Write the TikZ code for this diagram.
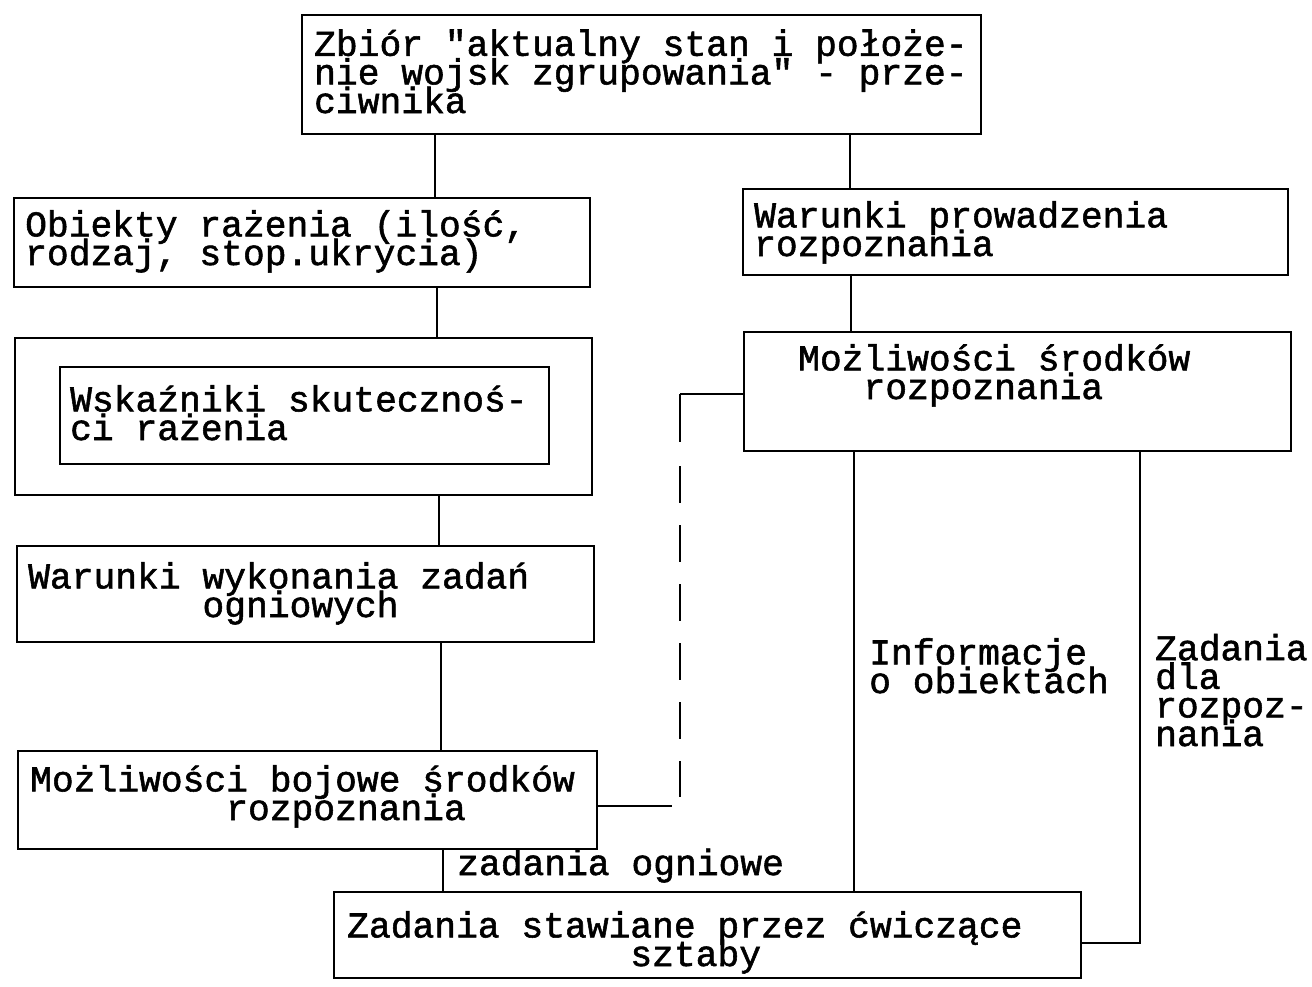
\documentclass[tikz,border=0pt]{standalone}
\usepackage{fontspec}
\newfontfamily\mono[FakeBold=1.5]{Liberation Mono}
% monospace text with fixed, tight line spacing
\newcommand\tightmono{\mono\fontsize{36.3}{28.6}\selectfont
  \setlength{\lineskiplimit}{-100pt}\setlength{\lineskip}{0pt}}
\begin{document}
\begin{tikzpicture}[x=1pt,y=-1pt,
  box/.style={draw, line width=2pt, inner sep=0pt, anchor=north west},
  % a multi-line text is placed by the baseline of its last line
  txt/.style={inner sep=0pt, anchor=base west, align=left, font=\tightmono},
  link/.style={line width=2pt},
  dlink/.style={line width=2pt, dash pattern=on 48pt off 24pt on 37pt off 22pt on 37pt off 22pt on 37pt off 22pt on 37pt off 22pt on 37pt off 22pt on 37pt off 22pt on 37pt off 40pt}
]
\useasboundingbox (0,0) rectangle (1312,986);

% boxes
\node[box, minimum width=679pt, minimum height=119pt] (top) at (301,14) {};
\node[box, minimum width=576pt, minimum height=89pt]  (obj) at (13,197) {};
\node[box, minimum width=577pt, minimum height=157pt] (outer) at (14,337) {};
\node[box, minimum width=489pt, minimum height=97pt]  (inner) at (59,366) {};
\node[box, minimum width=577pt, minimum height=96pt]  (wyk) at (16,545) {};
\node[box, minimum width=579pt, minimum height=98pt]  (boj) at (17,750) {};
\node[box, minimum width=747pt, minimum height=86pt]  (zad) at (333,891) {};
\node[box, minimum width=545pt, minimum height=86pt]  (prow) at (742,188) {};
\node[box, minimum width=547pt, minimum height=119pt] (srod) at (743,331) {};

% texts
\node[txt] (ttop) at (314,113) {Zbiór "aktualny stan i położe-\\nie wojsk zgrupowania" - prze-\\ciwnika};
\node[txt] (tobj) at (25,265) {Obiekty rażenia (ilość,\\rodzaj, stop.ukrycia)};
\node[txt] (tinner) at (70,440) {Wskaźniki skutecznoś-\\ci rażenia};
\node[txt] (twyk) at (28,617) {Warunki wykonania zadań\\\hphantom{xxxxxxxx}ogniowych};
\node[txt] (tboj) at (30,820) {Możliwości bojowe środków\\\hphantom{xxxxxxxxx}rozpoznania};
\node[txt] (tzad) at (347,966) {Zadania stawiane przez ćwiczące\\\hphantom{xxxxxxxxxxxxx}sztaby};
\node[txt] (tprow) at (754,256) {Warunki prowadzenia\\rozpoznania};
\node[txt] (tsrod) at (798,399) {Możliwości środków\\\hphantom{xxx}rozpoznania};
\node[txt] (tinfo) at (869,693) {Informacje\\o obiektach};
\node[txt] (tdla) at (1155,746) {Zadania\\dla\\rozpoz-\\nania};
\node[txt] (togn) at (457,875) {zadania ogniowe};

% connectors
\draw[link] (435,0 |- top.south) -- (435,0 |- obj.north);
\draw[link] (850,0 |- top.south) -- (850,0 |- prow.north);
\draw[link] (437,0 |- obj.south) -- (437,0 |- outer.north);
\draw[link] (439,0 |- outer.south) -- (439,0 |- wyk.north);
\draw[link] (441,0 |- wyk.south) -- (441,0 |- boj.north);
\draw[link] (443,0 |- boj.south) -- (443,0 |- zad.north);
\draw[link] (851,0 |- prow.south) -- (851,0 |- srod.north);
\draw[link] (854,0 |- srod.south) -- (854,0 |- zad.north);
\coordinate (zadr) at (1140,943);
\draw[link] (1140,0 |- srod.south) -- (zadr) -- (zad.east |- zadr);

% dashed link between the two capability boxes
\coordinate (dcorner) at (680,394);
\coordinate (dend) at (680,797);
\coordinate (bend) at (672,806);
\draw[link] (srod.west |- dcorner) -- (dcorner);
\draw[dlink] (dcorner) -- (dend);
\draw[link] (boj.east |- bend) -- (bend);
\end{tikzpicture}
\end{document}
